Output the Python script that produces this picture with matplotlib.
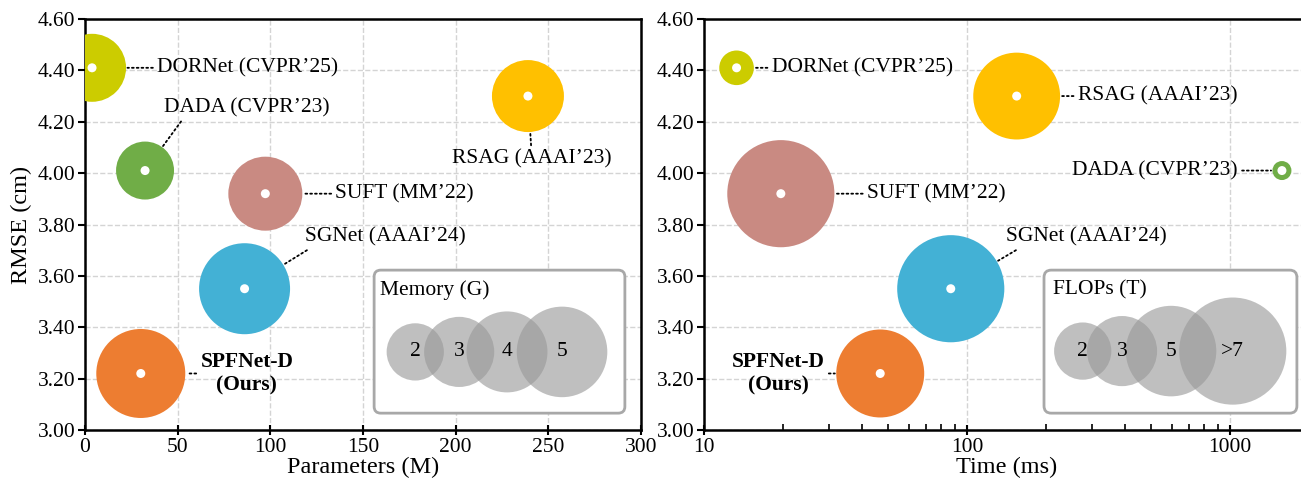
import numpy as np
import matplotlib
matplotlib.use("Agg")
import matplotlib.pyplot as plt
from matplotlib.patches import FancyBboxPatch

plt.rcParams['font.family'] = ['Liberation Serif', 'DejaVu Serif']

# ---------------- data ----------------
methods = ["DORNet (CVPR\u201925)", "DADA (CVPR\u201923)", "SUFT (MM\u201922)",
           "SGNet (AAAI\u201924)", "SPFNet-D\n(Ours)", "RSAG (AAAI\u201923)"]
colors = ["#cccc00", "#70ad47", "#c98a82", "#43b1d5", "#ed7d31", "#ffc000"]
rmse = [4.41, 4.01, 3.92, 3.55, 3.22, 4.30]
params = [3.8, 32.4, 97.3, 86.1, 30.1, 239.0]
memory = [2.82, 2.05, 3.34, 5.05, 4.83, 3.16]
time_ms = [13.3, 1578, 19.6, 86.8, 46.8, 154.6]
flops = [0.73, 0.22, 7.0, 7.0, 4.72, 4.6]

mem_legend = [2, 3, 4, 5]
mem_legend_labels = ["2", "3", "4", "5"]
flops_legend = [2, 3, 5, 7]
flops_legend_labels = ["2", "3", "5", ">7"]

yticks = [3.0, 3.2, 3.4, 3.6, 3.8, 4.0, 4.2, 4.4, 4.6]
xticks_left = [0, 50, 100, 150, 200, 250, 300]

K = 850.0  # points^2 per unit
FS = 15.5

W, H = 1301, 482
fig = plt.figure(figsize=(W / 100, H / 100), dpi=100)
axL = fig.add_axes([85 / W, 52 / H, 556 / W, 411 / H])
axR = fig.add_axes([704 / W, 52 / H, 605 / W, 411 / H])

px = 0.72  # points per pixel

# label layouts: (offset px x, offset px y, ha, va, relpos)
left_layout = [
    (65, 0, 'left', 'center', (0.5, 0.5)),
    (19, 53, 'left', 'bottom', (0.12, 0.0)),
    (70, 0, 'left', 'center', (0.5, 0.5)),
    (60, 42, 'left', 'bottom', (0.05, 0.0)),
    (106, 0, 'center', 'center', (0.5, 0.5)),
    (4, -63, 'center', 'center', (0.5, 0.5)),
]
right_layout = [
    (35, 0, 'left', 'center', (0.5, 0.5)),
    (-44, 0, 'right', 'center', (0.5, 0.5)),
    (86, 0, 'left', 'center', (0.5, 0.5)),
    (55, 42, 'left', 'bottom', (0.1, 0.0)),
    (-102, 0, 'center', 'center', (0.5, 0.5)),
    (61, 0, 'left', 'center', (0.5, 0.5)),
]


def draw_panel(ax, xs, sizes, layout):
    s = [K * v for v in sizes]
    ax.scatter(xs, rmse, s=s, c=colors, edgecolors='none', zorder=3)
    ax.scatter(xs, rmse, s=(9 * px) ** 2, c='white', edgecolors='none', zorder=4)
    for i, name in enumerate(methods):
        dx, dy, ha, va, rp = layout[i]
        bold = 'SPFNet' in name
        ax.annotate(name, xy=(xs[i], rmse[i]), xytext=(dx * px, dy * px),
                    textcoords='offset points', ha=ha, va=va,
                    multialignment='center', fontsize=FS,
                    fontweight='bold' if bold else 'normal', zorder=6,
                    arrowprops=dict(arrowstyle='-', linestyle=':', lw=1.3,
                                    color='k', shrinkA=1,
                                    shrinkB=np.sqrt(K * sizes[i]) / 2 + 1,
                                    relpos=rp))
    ax.set_ylim(3.0, 4.6)
    ax.set_yticks(yticks)
    ax.set_yticklabels([f"{v:.2f}" for v in yticks])
    ax.grid(True, which='major', linestyle='--', color='#d4d4d4', lw=1.0)
    ax.set_axisbelow(True)
    for sp in ax.spines.values():
        sp.set_linewidth(1.8)
    ax.tick_params(axis='y', which='major', direction='out', length=5, width=1.5,
                   labelsize=FS, pad=2)
    ax.tick_params(axis='x', which='major', direction='inout', length=7, width=1.5,
                   labelsize=FS, pad=2)
    ax.tick_params(axis='x', which='minor', direction='in', length=4, width=1.2)


def draw_size_legend(ax, title, vals, labels, xfr, yfr, box, title_pos):
    x0, y0, x1, y1 = box
    bw, bh = x1 - x0, y1 - y0
    asp = ax.bbox.width / ax.bbox.height
    patch = FancyBboxPatch((x0, y0), bw, bh,
                           boxstyle="round,pad=0,rounding_size=0.012",
                           mutation_aspect=asp, transform=ax.transAxes,
                           facecolor='white', edgecolor='#a8a8a8', lw=2.0,
                           zorder=5)
    ax.add_patch(patch)
    ax.text(title_pos[0], title_pos[1], title, transform=ax.transAxes,
            ha='left', va='center', fontsize=FS, zorder=7)
    ax.scatter(xfr, [yfr] * len(xfr), s=[K * v for v in vals],
               c='#999999', alpha=0.62, edgecolors='none',
               transform=ax.transAxes, zorder=6, clip_on=False)
    for xx, lab in zip(xfr, labels):
        ax.text(xx, yfr, lab, transform=ax.transAxes, ha='center', va='center',
                fontsize=FS, zorder=7)


draw_panel(axL, params, memory, left_layout)
axL.set_xlim(0, 300)
axL.set_xticks(xticks_left)
axL.set_xlabel("Parameters (M)", fontsize=17.5, labelpad=0)
axL.set_ylabel("RMSE (cm)", fontsize=17.5, labelpad=4)

draw_panel(axR, time_ms, flops, right_layout)
axR.set_xscale('log')
axR.set_xlim(10, 2000)
axR.set_xticks([10, 100, 1000])
axR.set_xticklabels(["10", "100", "1000"])
axR.set_xlabel("Time (ms)", fontsize=17.5, labelpad=0)
axR.tick_params(axis='x', which='minor', direction='in', length=4, width=1.2)
axR.xaxis.set_minor_formatter(matplotlib.ticker.NullFormatter())

draw_size_legend(axL, "Memory (G)", mem_legend, mem_legend_labels,
                 [0.594, 0.673, 0.759, 0.858], 0.19,
                 (0.520, 0.041, 0.971, 0.389), (0.531, 0.341))
draw_size_legend(axR, "FLOPs (T)", flops_legend, flops_legend_labels,
                 [0.626, 0.691, 0.772, 0.874], 0.192,
                 (0.562, 0.041, 0.980, 0.389), (0.577, 0.341))

fig.savefig("out.png", dpi=100)
